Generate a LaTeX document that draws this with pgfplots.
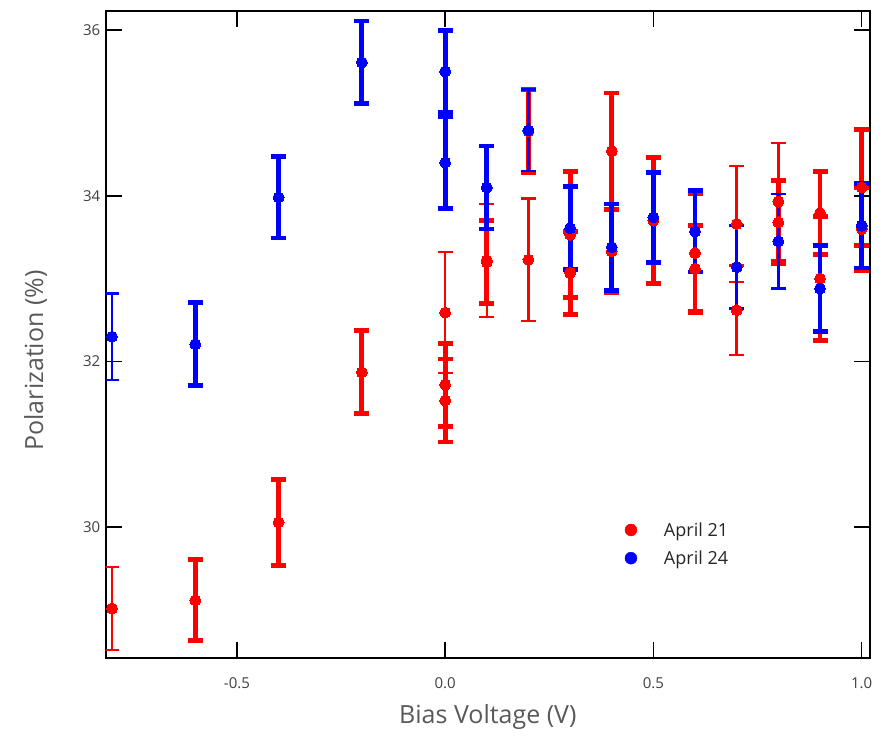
\documentclass[border=0pt]{standalone}
\usepackage{pgfplots}
\pgfplotsset{compat=1.18}
\usepackage{fontspec}
\setmainfont{Open Sans}
\definecolor{pred}{RGB}{255,0,0}
\definecolor{pblue}{RGB}{0,0,255}
\pgfplotsset{
  thickbar/.style={only marks, mark=*, mark size=5.5pt, mark options={line width=0pt},
    error bars/.cd, y dir=both, y explicit,
    error bar style={line width=4.8pt},
    error mark options={rotate=90, line width=4.8pt, mark size=7.5pt}},
  thinbar/.style={only marks, mark=*, mark size=5.5pt, mark options={line width=0pt},
    error bars/.cd, y dir=both, y explicit,
    error bar style={line width=2.5pt},
    error mark options={rotate=90, line width=2.5pt, mark size=7.5pt}},
}
\begin{document}
\begin{tikzpicture}
\begin{axis}[
  scale only axis,
  width=764pt, height=647pt,
  xmin=-0.815, xmax=1.02, ymin=28.42, ymax=36.23,
  axis line style={line width=1.6pt, black},
  xtick={-0.5,0,0.5,1}, ytick={30,32,34,36},
  tick align=inside, xtick pos=both, ytick pos=both,
  major tick length=16pt,
  tick style={line width=1.6pt, black},
  /pgf/number format/assume math mode=true,
  xticklabel style={/pgf/number format/fixed, /pgf/number format/fixed zerofill, /pgf/number format/precision=1, yshift=-16pt},
  ticklabel style={font=\fontsize{15}{15}\selectfont, text=black!75},
  yticklabel style={xshift=-2pt},
  every axis x label/.style={at={(rel axis cs:0.5,0)}, yshift=-59pt, anchor=center},
  every axis y label/.style={at={(rel axis cs:0,0.46)}, xshift=-70pt, rotate=90, anchor=center},
  label style={font=\fontsize{25}{30}\selectfont, text=black!65},
  xlabel={Bias Voltage (V)},
  ylabel={Polarization (\%)},
  legend style={draw=none, fill=none, at={(axis cs:0.424,30.11)}, anchor=north west,
    font=\fontsize{18}{21}\selectfont, row sep=9pt, column sep=25pt, text=black!85},
  legend cell align=left,
]
\addlegendimage{only marks, mark=*, mark size=6pt, color=pred}
\addlegendentry{April 21}
\addlegendimage{only marks, mark=*, mark size=6pt, color=pblue}
\addlegendentry{April 24}

% April 21, thin bars
\addplot[forget plot, color=pred, thinbar] table[x=x, y=y, y error=e] {
x y e
-0.8 29.02 0.50
0.0 32.59 0.73
0.1 33.22 0.68
0.2 33.23 0.74
0.7 33.66 0.70
0.7 32.62 0.54
0.8 33.93 0.71
};
% April 21, thick bars
\addplot[forget plot, color=pred, thickbar] table[x=x, y=y, y error=e] {
x y e
-0.6 29.12 0.49
-0.4 30.06 0.52
-0.2 31.87 0.50
0.0 31.72 0.50
0.0 31.53 0.50
0.1 33.20 0.50
0.2 34.78 0.50
0.3 33.53 0.76
0.3 33.07 0.50
0.4 34.54 0.70
0.4 33.33 0.50
0.5 33.70 0.76
0.6 33.31 0.72
0.6 33.12 0.52
0.8 33.68 0.50
0.9 33.79 0.50
0.9 33.00 0.75
1.0 34.10 0.70
1.0 33.60 0.50
};
% April 24, thick bars
\addplot[forget plot, color=pblue, thickbar] table[x=x, y=y, y error=e] {
x y e
-0.6 32.21 0.50
-0.4 33.98 0.49
-0.2 35.61 0.50
0.0 35.50 0.49
0.0 34.40 0.55
0.1 34.10 0.50
0.3 33.61 0.50
0.4 33.38 0.52
0.5 33.74 0.54
0.6 33.57 0.49
0.9 32.88 0.52
1.0 33.64 0.51
};
% April 24, thin bars
\addplot[forget plot, color=pblue, thinbar] table[x=x, y=y, y error=e] {
x y e
-0.8 32.30 0.52
0.2 34.79 0.49
0.7 33.14 0.50
0.8 33.45 0.57
};
\coordinate (sw) at (rel axis cs:0,0);
\coordinate (ne) at (rel axis cs:1,1);
\end{axis}
\path ([shift={(-105.7pt,-80pt)}]sw) rectangle ([shift={(14pt,11pt)}]ne);
\end{tikzpicture}
\end{document}
